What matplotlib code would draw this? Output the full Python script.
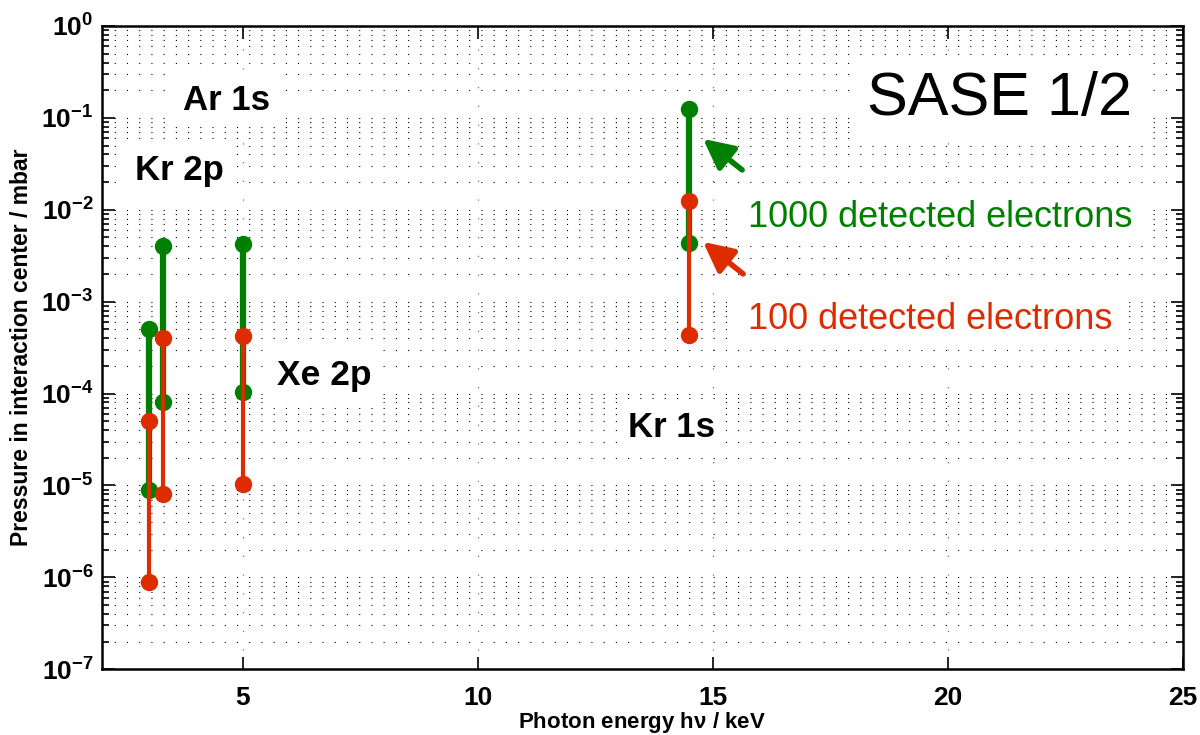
import math
import matplotlib
matplotlib.use("Agg")
import matplotlib.pyplot as plt
from matplotlib.ticker import LogLocator, FixedLocator, FuncFormatter, NullFormatter

plt.rcParams['font.family'] = ['Liberation Sans', 'DejaVu Sans']
plt.rcParams['mathtext.fontset'] = 'custom'
plt.rcParams['mathtext.rm'] = 'Liberation Sans'
plt.rcParams['mathtext.bf'] = 'Liberation Sans:bold'
plt.rcParams['mathtext.it'] = 'Liberation Sans:italic'

# ---- data ----
energy_keV = [3.0, 3.3, 5.0, 14.5]
green_high = [5.0e-4, 4.0e-3, 4.2e-3, 1.25e-1]   # 1000 detected electrons
green_low = [9.0e-6, 8.0e-5, 1.05e-4, 4.3e-3]
red_high = [5.0e-5, 4.0e-4, 4.2e-4, 1.25e-2]      # 100 detected electrons
red_low = [9.0e-7, 8.0e-6, 1.05e-5, 4.3e-4]
x_ticks = [5, 10, 15, 20, 25]

GREEN = '#008000'
RED = '#dd2c00'

fig = plt.figure(figsize=(12, 7.35), dpi=100)
ax = fig.add_axes([0.0848, 0.0894, 0.9008, 0.8753])

for xi, lo, hi in zip(energy_keV, green_low, green_high):
    ax.plot([xi, xi], [lo, hi], '-o', color=GREEN, lw=4.5, ms=11.5, zorder=4)
for xi, lo, hi in zip(energy_keV, red_low, red_high):
    ax.plot([xi, xi], [lo, hi], '-o', color=RED, lw=3, ms=11.5, zorder=5)

ax.set_yscale('log')
ax.set_xlim(2, 25)
ax.set_ylim(1e-7, 1)
ax.xaxis.set_major_locator(FixedLocator(x_ticks))
ax.yaxis.set_major_locator(LogLocator(base=10, numticks=20))
ax.yaxis.set_minor_locator(LogLocator(base=10, subs=range(2, 10), numticks=20))
ax.yaxis.set_minor_formatter(NullFormatter())
ax.yaxis.set_major_formatter(FuncFormatter(
    lambda v, p: r'$\mathbf{10^{%d}}$' % round(math.log10(v))))

ax.set_axisbelow(True)
ax.yaxis.grid(True, which='both', linestyle=(0, (1, 10)), color='black', lw=0.8)
ax.xaxis.grid(True, which='major', linestyle=(0, (1, 14)), color='#777777', lw=0.9)

ax.tick_params(which='both', direction='in', top=True, right=True, width=1.2)
ax.tick_params(which='major', length=9)
ax.tick_params(which='minor', length=5)
ax.tick_params(axis='x', which='major', labelsize=19, pad=12)
ax.tick_params(axis='y', which='major', labelsize=19, pad=6)
for lab in ax.get_xticklabels():
    lab.set_fontweight('bold')
for sp in ax.spines.values():
    sp.set_linewidth(1.8)

ax.set_xlabel(r'Photon energy h$\mathbf{\nu}$ / keV', fontsize=16, fontweight='bold', labelpad=0)
ax.set_ylabel('Pressure in interaction center / mbar', fontsize=16.5, fontweight='bold', labelpad=6)

box = dict(boxstyle='square,pad=0.3', facecolor='white', edgecolor='none')
ax.text(0.0752, 0.8694, 'Ar 1s', transform=ax.transAxes, fontsize=25, fontweight='bold',
        va='baseline', ha='left', bbox=box, zorder=3)
ax.text(0.0308, 0.7606, 'Kr 2p', transform=ax.transAxes, fontsize=25, fontweight='bold',
        va='baseline', ha='left', bbox=box, zorder=3)
ax.text(0.1622, 0.4419, 'Xe 2p', transform=ax.transAxes, fontsize=25.5, fontweight='bold',
        va='baseline', ha='left', bbox=box, zorder=3)
ax.text(0.4869, 0.3610, 'Kr 1s', transform=ax.transAxes, fontsize=25, fontweight='bold',
        va='baseline', ha='left', bbox=box, zorder=3)
ax.text(0.7080, 0.8616, 'SASE 1/2', transform=ax.transAxes, fontsize=44,
        va='baseline', ha='left', bbox=dict(boxstyle='square,pad=0.25', facecolor='white', edgecolor='none'), zorder=3)
ax.text(0.5979, 0.6875, '1000 detected electrons', transform=ax.transAxes, fontsize=26,
        color=GREEN, va='baseline', ha='left', bbox=box, zorder=3)
ax.text(0.5979, 0.5290, '100 detected electrons', transform=ax.transAxes, fontsize=26,
        color=RED, va='baseline', ha='left', bbox=box, zorder=3)

ax.annotate('', xy=(0.5563, 0.8244), xytext=(0.5924, 0.7762), xycoords='axes fraction',
            arrowprops=dict(arrowstyle='-|>,head_length=0.9,head_width=0.45', color=GREEN,
                            lw=4, mutation_scale=20, shrinkA=0, shrinkB=0), zorder=6)
ax.annotate('', xy=(0.5563, 0.6643), xytext=(0.5933, 0.6146), xycoords='axes fraction',
            arrowprops=dict(arrowstyle='-|>,head_length=0.9,head_width=0.45', color=RED,
                            lw=4, mutation_scale=20, shrinkA=0, shrinkB=0), zorder=6)

fig.savefig('out.png', dpi=100)
